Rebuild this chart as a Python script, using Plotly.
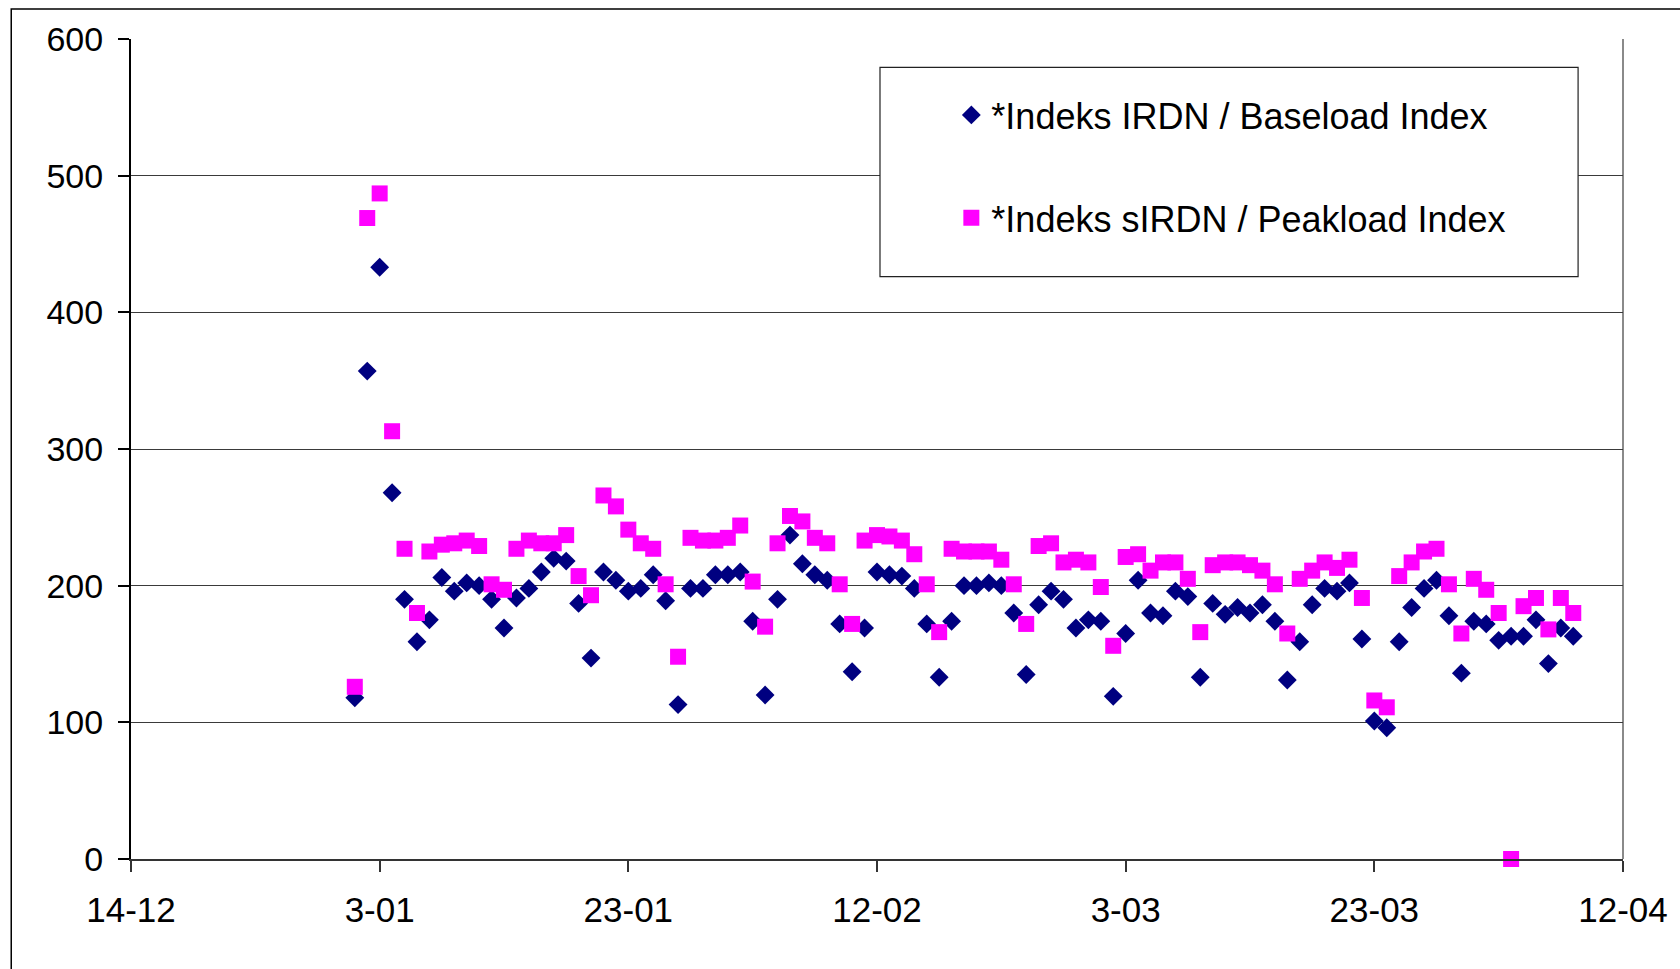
import pandas as pd
import plotly.graph_objects as go

# Daily index values, 1 Jan 2008 .. 9 Apr 2008
start_date = "2008-01-01"
baseload = [
    118, 357, 433, 268, 190, 159, 175, 206, 196, 202,
    200, 190, 169, 191, 198, 210, 220, 218, 187, 147,
    210, 204, 196, 198, 208, 189, 113, 198, 198, 208,
    208, 210, 174, 120, 190, 237, 216, 208, 204, 172,
    137, 169, 210, 208, 207, 198, 172, 133, 174, 200,
    200, 202, 200, 180, 135, 186, 196, 190, 169, 175,
    174, 119, 165, 204, 180, 178, 196, 192, 133, 187,
    179, 184, 180, 186, 174, 131, 159, 186, 198, 196,
    202, 161, 101, 96, 159, 184, 198, 204, 178, 136,
    174, 172, 160, 163, 163, 175, 143, 169, 163,
]
peakload = [
    126, 469, 487, 313, 227, 180, 225, 230, 231, 233,
    229, 201, 197, 227, 233, 231, 231, 237, 207, 193,
    266, 258, 241, 231, 227, 201, 148, 235, 233, 233,
    235, 244, 203, 170, 231, 251, 247, 235, 231, 201,
    172, 233, 237, 236, 233, 223, 201, 166, 227, 225,
    225, 225, 219, 201, 172, 229, 231, 217, 219, 217,
    199, 156, 221, 223, 211, 217, 217, 205, 166, 215,
    217, 217, 215, 211, 201, 165, 205, 211, 217, 213,
    219, 191, 116, 111, 207, 217, 225, 227, 201, 165,
    205, 197, 180, 0, 185, 191, 168, 191, 180,
]
series_names = ["*Indeks IRDN / Baseload Index", "*Indeks sIRDN / Peakload Index"]
axis_start, axis_end = "2007-12-14", "2008-04-12"

dates = pd.date_range(start_date, periods=len(baseload), freq="D")

FONT = "Liberation Sans, Arial, sans-serif"

fig = go.Figure()
fig.add_trace(go.Scatter(
    x=dates, y=baseload, mode="markers", name=series_names[0],
    marker=dict(symbol="diamond", size=14.5, color="#000080", line=dict(width=0)),
    cliponaxis=False, legendgroup="a",
))
fig.add_trace(go.Scatter(
    x=dates, y=peakload, mode="markers", name=series_names[1],
    marker=dict(symbol="square", size=16, color="#FF00FF", line=dict(width=0)),
    cliponaxis=False, legendgroup="b",
))

L, R, T, B = 131, 1626, 39, 859
W, H = 1680, 969
pw, ph = R - L, B - T

def px(xp):
    return (xp - L) / pw

def py(yp):
    return (B - yp) / ph

fig.update_layout(
    width=W, height=H,
    margin=dict(l=L, r=W - R, t=T, b=H - B, pad=0),
    paper_bgcolor="white", plot_bgcolor="white",
    font=dict(family=FONT, color="black"),
    showlegend=True,
    legend=dict(
        x=px(953), y=py(85), xanchor="left", yanchor="top",
        bgcolor="rgba(0,0,0,0)", borderwidth=0,
        font=dict(family=FONT, size=36, color="black"),
        tracegroupgap=53, traceorder="grouped",
        itemsizing="trace",
    ),
    xaxis=dict(
        type="date", range=[axis_start, axis_end],
        tick0=axis_start, dtick=20 * 86400000, tickformat="%-d-%m",
        showgrid=False, zeroline=False,
        showline=True, linecolor="#333333", linewidth=2,
        ticks="outside", ticklen=11, tickwidth=1.5, tickcolor="#333333",
        tickfont=dict(family=FONT, size=35, color="black"),
        ticklabelstandoff=8,
    ),
    yaxis=dict(
        range=[0, 600], tick0=0, dtick=100,
        showgrid=True, gridcolor="#3a3a3a", gridwidth=1.4,
        zeroline=False,
        showline=True, linecolor="black", linewidth=2,
        ticks="outside", ticklen=11, tickwidth=1.5, tickcolor="black",
        tickfont=dict(family=FONT, size=34, color="black"),
        ticklabelstandoff=8,
    ),
    shapes=[
        # legend box
        dict(type="rect", xref="paper", yref="paper",
             x0=px(881.5), x1=px(1581), y0=py(276.7), y1=py(67.3),
             line=dict(color="#222222", width=1.2), fillcolor="white", layer="above"),
        # right edge of plot area
        dict(type="line", xref="paper", yref="paper", x0=1, x1=1, y0=0, y1=1,
             line=dict(color="#8a8a8a", width=2), layer="below"),
        # outer chart frame
        dict(type="rect", xref="paper", yref="paper",
             x0=px(11), x1=px(1700), y0=py(1000), y1=py(9),
             line=dict(color="black", width=1.5), fillcolor="rgba(0,0,0,0)", layer="below"),
    ],
)

fig.write_html("out.html", config={"displayModeBar": False, "responsive": False})
